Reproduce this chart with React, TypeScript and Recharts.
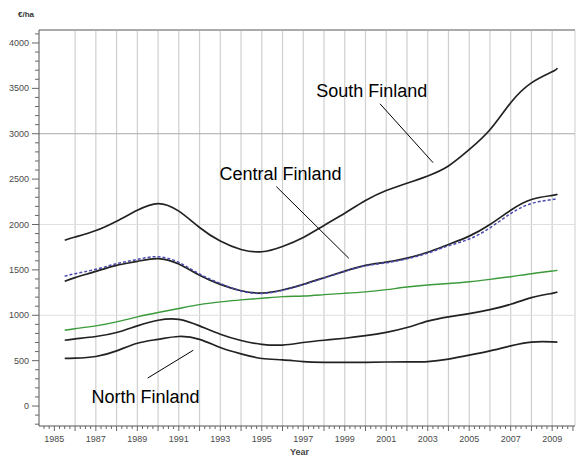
import { LineChart, Line, XAxis, YAxis, ReferenceLine, ReferenceDot, Label } from 'recharts';

// x positions (year, mid-year start, early-2009 end)
const years = [
  1985.5, 1986, 1987, 1988, 1989, 1990, 1991, 1992, 1993, 1994, 1995, 1996, 1997,
  1998, 1999, 2000, 2001, 2002, 2003, 2004, 2005, 2006, 2007, 2008, 2009, 2009.25,
];

const south = [
  1826, 1862, 1934, 2037, 2157, 2231, 2147, 1967, 1817, 1725, 1700, 1758, 1857,
  1990, 2125, 2265, 2375, 2455, 2535, 2645, 2825, 3044, 3341, 3560, 3682, 3722,
];
const centralBlack = [
  1374, 1415, 1484, 1550, 1594, 1625, 1564, 1440, 1340, 1270, 1245, 1278, 1341,
  1414, 1487, 1550, 1585, 1630, 1695, 1780, 1872, 2000, 2157, 2275, 2320, 2335,
];
const centralBlue = [
  1430, 1458, 1506, 1568, 1615, 1645, 1582, 1455, 1350, 1268, 1240, 1275, 1338,
  1410, 1483, 1545, 1578, 1622, 1685, 1765, 1840, 1963, 2121, 2231, 2275, 2285,
];
const green = [
  835, 852, 883, 927, 982, 1030, 1074, 1117, 1147, 1170, 1187, 1205, 1212,
  1227, 1242, 1258, 1282, 1311, 1333, 1350, 1370, 1396, 1425, 1458, 1487, 1498,
];
const middle = [
  725, 740, 766, 810, 883, 945, 955, 883, 791, 722, 680, 672, 700,
  725, 747, 775, 812, 865, 935, 982, 1019, 1062, 1121, 1195, 1242, 1256,
];
const north = [
  524, 527, 546, 608, 692, 735, 766, 735, 645, 575, 524, 509, 490,
  482, 480, 482, 485, 487, 490, 517, 560, 608, 663, 705, 707, 705,
];

const xTickLabels = [1985, 1987, 1989, 1991, 1993, 1995, 1997, 1999, 2001, 2003, 2005, 2007, 2009];
const gridYears = [
  1986, 1987, 1988, 1989, 1990, 1991, 1992, 1993, 1994, 1995, 1996, 1997,
  1998, 1999, 2000, 2001, 2002, 2003, 2004, 2005, 2006, 2007, 2008, 2009,
];
const yTickLabels = [0, 500, 1000, 1500, 2000, 2500, 3000, 3500, 4000];

const annotations = [
  { text: 'South Finland', at: [2000.3, 3473], from: [2000.7, 3330], to: [2003.26, 2681] },
  { text: 'Central Finland', at: [1995.9, 2561], from: [1995.7, 2418], to: [1999.2, 1627] },
  { text: 'North Finland', at: [1989.4, 99], from: [1989.5, 308], to: [1991.7, 615] },
];

const X_MIN = 1984.26;
const X_MAX = 2010.1;
const Y_MIN = -220;
const Y_MAX = 4143;

const data = years.map((year, i) => ({
  year,
  south: south[i],
  centralBlack: centralBlack[i],
  centralBlue: centralBlue[i],
  green: green[i],
  middle: middle[i],
  north: north[i],
}));

const xTicks: number[] = [];
for (let q = 1985 * 4 - 2; q <= 2010 * 4; q++) xTicks.push(q / 4);
const yTicks: number[] = [];
for (let v = -200; v <= 4100; v += 100) yTicks.push(v);

const tickFont = { fontFamily: 'Liberation Sans, Arial, sans-serif', fontSize: 9, fill: '#4a4a4a' };

const XTick = (props: any) => {
  const { x, y, payload } = props;
  const v = payload.value;
  const isYear = Number.isInteger(v);
  return (
    <g>
      <line x1={x} x2={x} y1={y} y2={y + (isYear ? 5 : 3)} stroke="#666" />
      {xTickLabels.includes(v) && (
        <text x={x} y={y + 16} textAnchor="middle" {...tickFont}>
          {v}
        </text>
      )}
    </g>
  );
};

const YTick = (props: any) => {
  const { x, y, payload } = props;
  const v = payload.value;
  const major = yTickLabels.includes(v);
  return (
    <g>
      <line x1={x - (major ? 7 : 4)} x2={x} y1={y} y2={y} stroke="#666" />
      {major && (
        <text x={x - 10} y={y + 3} textAnchor="end" {...tickFont}>
          {v}
        </text>
      )}
    </g>
  );
};

export default function App() {
  return (
    <div style={{ position: 'absolute', left: 0, top: 0, width: 577, height: 466, background: '#fff' }}>
      <LineChart width={577} height={466} data={data} margin={{ top: 30, right: 2, left: 0, bottom: 0 }}>
        <XAxis
          type="number"
          dataKey="year"
          domain={[X_MIN, X_MAX]}
          ticks={xTicks}
          interval={0}
          tickLine={false}
          tickSize={0}
          tickMargin={0}
          tick={<XTick />}
          height={40}
          axisLine={{ stroke: '#555' }}
          allowDataOverflow
        />
        <YAxis
          type="number"
          domain={[Y_MIN, Y_MAX]}
          ticks={yTicks}
          interval={0}
          tickLine={false}
          tickSize={0}
          tickMargin={0}
          tick={<YTick />}
          width={39}
          axisLine={{ stroke: '#555' }}
          allowDataOverflow
        />
        {gridYears.map((yr) => (
          <ReferenceLine key={yr} x={yr} stroke="#cfcfcf" strokeWidth={1.2} />
        ))}
        <ReferenceLine x={X_MAX} stroke="#cfcfcf" />
        <ReferenceLine y={1000} stroke="#e0e0e0" />
        <ReferenceLine y={2000} stroke="#e0e0e0" />
        <ReferenceLine y={3000} stroke="#aaaaaa" />
        <ReferenceLine y={Y_MAX} stroke="#aaaaaa" strokeWidth={2} />
        <Line type="natural" dataKey="south" stroke="#222" strokeWidth={1.7} dot={false} isAnimationActive={false} />
        <Line type="natural" dataKey="centralBlack" stroke="#222" strokeWidth={1.7} dot={false} isAnimationActive={false} />
        <Line
          type="natural"
          dataKey="centralBlue"
          stroke="#4a4ab0"
          strokeWidth={1.5}
          strokeDasharray="3 2"
          dot={false}
          isAnimationActive={false}
        />
        <Line type="natural" dataKey="green" stroke="#3a9a3a" strokeWidth={1.4} dot={false} isAnimationActive={false} />
        <Line type="natural" dataKey="middle" stroke="#222" strokeWidth={1.7} dot={false} isAnimationActive={false} />
        <Line type="natural" dataKey="north" stroke="#222" strokeWidth={1.7} dot={false} isAnimationActive={false} />
        {annotations.map((a) => (
          <ReferenceLine
            key={a.text + '-line'}
            segment={[
              { x: a.from[0], y: a.from[1] },
              { x: a.to[0], y: a.to[1] },
            ]}
            stroke="#000"
            strokeWidth={1}
          />
        ))}
        {annotations.map((a) => (
          <ReferenceDot key={a.text} x={a.at[0]} y={a.at[1]} r={0} fill="none" stroke="none">
            <Label
              value={a.text}
              position="center"
              style={{ fontFamily: 'Liberation Sans, Arial, sans-serif', fontSize: 18, fill: '#000' }}
            />
          </ReferenceDot>
        ))}
      </LineChart>
      <div
        style={{
          position: 'absolute',
          left: 18,
          top: 10,
          fontFamily: 'Liberation Sans, Arial, sans-serif',
          fontSize: 8,
          fontWeight: 'bold',
          color: '#333',
        }}
      >
        €/ha
      </div>
      <div
        style={{
          position: 'absolute',
          left: 290,
          top: 447,
          fontFamily: 'Liberation Sans, Arial, sans-serif',
          fontSize: 9,
          fontWeight: 'bold',
          color: '#444',
        }}
      >
        Year
      </div>
    </div>
  );
}
